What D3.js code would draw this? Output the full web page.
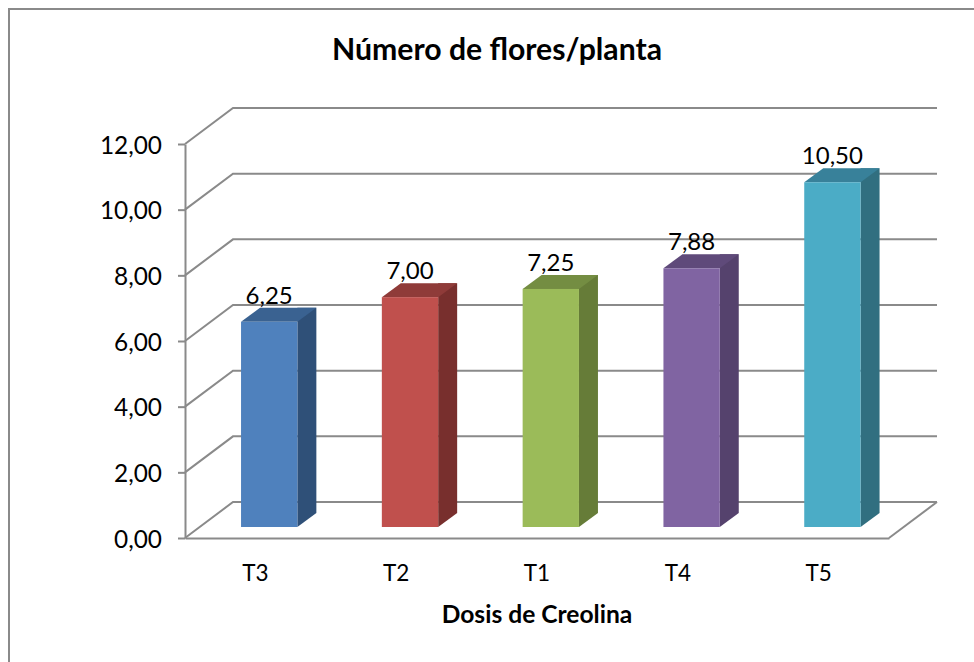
<!DOCTYPE html>
<html>
<head>
<meta charset="utf-8">
<script src="https://cdn.jsdelivr.net/npm/d3@7"></script>
<style>
  body { margin: 0; background: #fff; }
  text { font-family: Lato, "Open Sans", sans-serif; fill: #000; }
</style>
</head>
<body>
<div id="graph"></div>
<script>
//Chart values.
const categories = ["T3", "T2", "T1", "T4", "T5"];
const values = [6.25, 7.00, 7.25, 7.88, 10.50];
const yTicks = [0, 2, 4, 6, 8, 10, 12];
const frontColors = ["#4F81BD", "#C0504D", "#9BBB59", "#8064A2", "#4BACC6"];
const topColors = ["#3A6291", "#8F3B39", "#748D42", "#5F4A7A", "#38819A"];
const sideColors = ["#2F5078", "#782F2D", "#667C38", "#55426D", "#316F80"];

//Sizes of the graph.
const w = 974;
const h = 662;
const left = 185;
const right = 889;
const top_ = 144;
const bottom = 538;

//The floor depth of the chart and the depth of one bar.
const wallX = 48;
const wallY = 36;
const barShiftX = 13.8;
const barShiftY = 11;
const barDepthX = 19;
const barDepthY = 14;

const lineColor = "#8A8A8A";

const svg = d3.select("#graph")
  .append("svg")
  .attr("width", w)
  .attr("height", h)
  .style("display", "block");

const xScale = d3.scaleBand()
  .domain(categories)
  .range([left, right])
  .paddingInner(0.6)
  .paddingOuter(0.3);

const yScale = d3.scaleLinear()
  .domain([0, 12])
  .range([bottom, top_]);

//Outer border, the right and bottom sides are cut off in the picture.
svg.append("path")
  .attr("d", "M" + w + ",9 H9 V" + h)
  .attr("fill", "none")
  .attr("stroke", lineColor)
  .attr("stroke-width", 2);

//Grid lines on the side wall and the back wall.
const grid = svg.append("g").attr("id", "grid");
grid.selectAll("path")
  .data(yTicks)
  .enter()
  .append("path")
  .attr("d", d => "M" + left + "," + yScale(d) +
    " L" + (left + wallX) + "," + (yScale(d) - wallY) +
    " H" + (right + wallX))
  .attr("fill", "none")
  .attr("stroke", lineColor)
  .attr("stroke-width", 2);

//Right edge of the floor.
grid.append("line")
  .attr("x1", right)
  .attr("y1", bottom)
  .attr("x2", right + wallX)
  .attr("y2", bottom - wallY)
  .attr("stroke", lineColor)
  .attr("stroke-width", 2);

//Axes.
const yAxis = d3.axisLeft(yScale)
  .tickValues(yTicks)
  .tickSize(7)
  .tickSizeOuter(0)
  .tickPadding(16)
  .tickFormat(d => d3.format(".2f")(d).replace(".", ","));

const xAxis = d3.axisBottom(xScale)
  .tickSize(0)
  .tickPadding(27);

const yAxisGroup = svg.append("g").attr("id", "y-axis").attr("transform", "translate(" + left + ",0)").call(yAxis);
const xAxisGroup = svg.append("g").attr("id", "x-axis").attr("transform", "translate(0," + bottom + ")").call(xAxis);

[yAxisGroup, xAxisGroup].forEach(axis => {
  axis.selectAll("path, line").attr("stroke", lineColor).attr("stroke-width", 2);
  axis.selectAll("text").attr("fill", "#000");
});
yAxisGroup.selectAll("text").style("font-size", "24.4px").attr("dy", "0.38em");
xAxisGroup.selectAll("text").style("font-size", "22.5px");

//Bars: each one has a front, a top and a side face.
const bars = svg.selectAll(".bar")
  .data(values)
  .enter()
  .append("g")
  .attr("class", "bar");

const barLeft = i => xScale(categories[i]) + barShiftX;
const barRight = i => barLeft(i) + xScale.bandwidth();
const barTop = d => yScale(d) - barShiftY;
const barBottom = yScale(0) - barShiftY;

bars.append("path")
  .attr("fill", (d, i) => sideColors[i])
  .attr("d", (d, i) => "M" + barRight(i) + "," + barBottom +
    " l" + barDepthX + "," + (-barDepthY) +
    " V" + (barTop(d) - barDepthY) +
    " H" + barRight(i) +
    " V" + barBottom + " Z");

bars.append("path")
  .attr("fill", (d, i) => topColors[i])
  .attr("d", (d, i) => "M" + barLeft(i) + "," + barTop(d) +
    " l" + barDepthX + "," + (-barDepthY) +
    " H" + (barRight(i) + barDepthX) +
    " L" + barRight(i) + "," + barTop(d) + " Z");

bars.append("rect")
  .attr("x", (d, i) => barLeft(i))
  .attr("y", d => barTop(d))
  .attr("width", xScale.bandwidth())
  .attr("height", d => barBottom - barTop(d))
  .attr("fill", (d, i) => frontColors[i]);

//Value labels above the bars.
svg.selectAll(".value-label")
  .data(values)
  .enter()
  .append("text")
  .attr("class", "value-label")
  .attr("x", (d, i) => barLeft(i) + xScale.bandwidth() / 2)
  .attr("y", d => barTop(d) - 18)
  .attr("text-anchor", "middle")
  .style("font-size", "24px")
  .text(d => d3.format(".2f")(d).replace(".", ","));

//Title and x-axis label.
svg.append("text")
  .attr("id", "title")
  .attr("x", 497)
  .attr("y", 60)
  .attr("text-anchor", "middle")
  .style("font-size", "30.2px")
  .style("font-weight", "bold")
  .text("Número de flores/planta");

svg.append("text")
  .attr("id", "x-axis-label")
  .attr("x", 537)
  .attr("y", 623)
  .attr("text-anchor", "middle")
  .style("font-size", "24.6px")
  .style("font-weight", "bold")
  .text("Dosis de Creolina");
</script>
</body>
</html>
